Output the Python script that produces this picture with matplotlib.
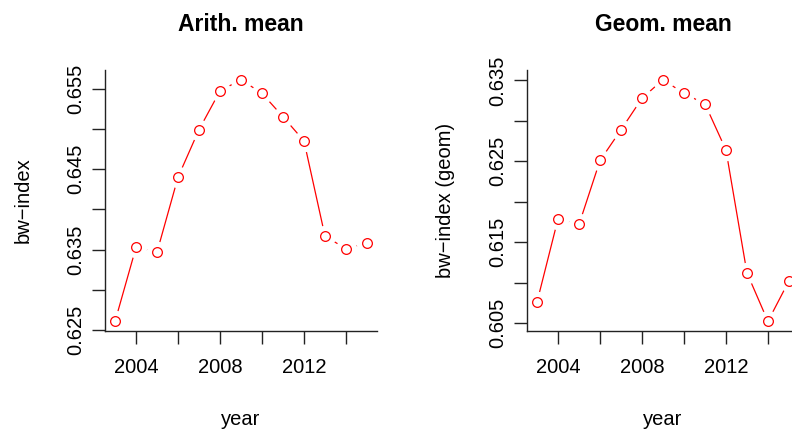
#!/usr/bin/env python3
import numpy as np
import matplotlib
matplotlib.use("Agg")
import matplotlib.pyplot as plt

plt.rcParams["font.family"] = ["Liberation Sans", "DejaVu Sans"]

years = list(range(2003, 2016))
arith = [0.6261, 0.6353, 0.6347, 0.6440, 0.6499, 0.6547, 0.6561,
         0.6544, 0.6515, 0.6485, 0.6367, 0.6351, 0.6358]
geom = [0.6076, 0.6179, 0.6172, 0.6251, 0.6289, 0.6328, 0.6351,
        0.6334, 0.6321, 0.6264, 0.6112, 0.6052, 0.6102]

x_ticks = [2004, 2006, 2008, 2010, 2012, 2014]
x_labels = ["2004", "", "2008", "", "2012", ""]
arith_ticks = [0.625, 0.630, 0.635, 0.640, 0.645, 0.650, 0.655]
arith_labels = ["0.625", "", "0.635", "", "0.645", "", "0.655"]
geom_ticks = [0.605, 0.610, 0.615, 0.620, 0.625, 0.630, 0.635]
geom_labels = ["0.605", "", "0.615", "", "0.625", "", "0.635"]

W, H = 792, 430
fig = plt.figure(figsize=(W / 100, H / 100), dpi=100)


def panel(left, y, title, ylabel, yticks, ylabels):
    # axes in pixel units, right panel runs past the figure edge (cropped)
    ax = fig.add_axes([left / W, (H - 331) / H, 272 / W, 261 / H])

    # type="b" look: line, white halo round each point, then open circles
    ax.plot(years, y, color="red", lw=0.9, zorder=2)
    ax.plot(years, y, ls="none", marker="o", ms=15.5, mfc="white",
            mew=0, zorder=2.1)
    ax.plot(years, y, ls="none", marker="o", ms=7.0, mfc="white",
            mec="red", mew=0.9, zorder=2.2)
    ax.margins(x=0.04, y=0.04)

    for s in ["top", "right"]:
        ax.spines[s].set_visible(False)
    for s in ["left", "bottom"]:
        ax.spines[s].set_linewidth(1.0)
        ax.spines[s].set_color("#222222")

    ax.set_xticks(x_ticks)
    ax.set_xticklabels(x_labels)
    ax.set_yticks(yticks)
    ax.set_yticklabels(ylabels, rotation=90, va="center")
    ax.tick_params(direction="out", length=9.5, width=1.0, color="#222222",
                   labelsize=14.5)
    ax.tick_params(axis="x", pad=10)
    ax.tick_params(axis="y", pad=5)

    ax.set_title(title, fontsize=16.5, fontweight="bold", pad=28)
    ax.set_xlabel("year", fontsize=14.5, labelpad=24)
    ax.set_ylabel(ylabel, fontsize=14.5, labelpad=24)
    return ax


panel(105, arith, "Arith. mean", "bw\u2212index", arith_ticks, arith_labels)
panel(527, geom, "Geom. mean", "bw\u2212index (geom)", geom_ticks, geom_labels)

fig.savefig("out.png", dpi=100)
